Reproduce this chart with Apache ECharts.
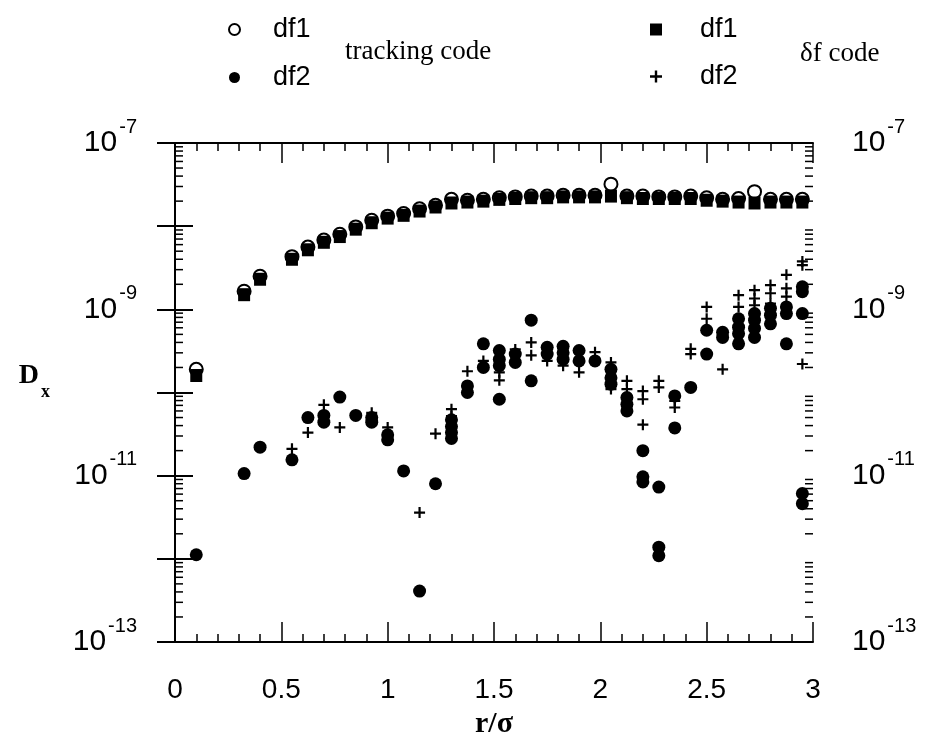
<!DOCTYPE html>
<html>
<head>
<meta charset="utf-8">
<script src="https://cdn.jsdelivr.net/npm/echarts@6/dist/echarts.min.js"></script>
<style>
  html, body { margin: 0; background: #fff; }
  #chart { width: 939px; height: 738px; }
</style>
</head>
<body>
<div id="chart"></div>
<script>
// [r/sigma, D_x]
const trackingDf1 = [
  [0.1, 1.9e-10], [0.325, 1.65e-9], [0.4, 2.5e-9], [0.55, 4.3e-9], [0.625, 5.6e-9],
  [0.7, 6.8e-9], [0.775, 8.0e-9], [0.85, 9.8e-9], [0.925, 1.18e-8], [1.0, 1.32e-8],
  [1.075, 1.42e-8], [1.15, 1.62e-8], [1.225, 1.78e-8], [1.3, 2.1e-8], [1.375, 2.05e-8],
  [1.45, 2.1e-8], [1.525, 2.2e-8], [1.6, 2.25e-8], [1.675, 2.3e-8], [1.75, 2.3e-8],
  [1.825, 2.35e-8], [1.9, 2.35e-8], [1.975, 2.35e-8], [2.05, 3.2e-8], [2.125, 2.3e-8],
  [2.2, 2.3e-8], [2.275, 2.25e-8], [2.35, 2.25e-8], [2.425, 2.3e-8], [2.5, 2.2e-8],
  [2.575, 2.1e-8], [2.65, 2.15e-8], [2.725, 2.6e-8], [2.8, 2.1e-8], [2.875, 2.1e-8],
  [2.95, 2.1e-8]
]

const deltafDf1 = [
  [0.1, 1.6e-10], [0.325, 1.5e-9], [0.4, 2.3e-9], [0.55, 4.0e-9], [0.625, 5.2e-9],
  [0.7, 6.4e-9], [0.775, 7.5e-9], [0.85, 9.2e-9], [0.925, 1.1e-8], [1.0, 1.25e-8],
  [1.075, 1.35e-8], [1.15, 1.52e-8], [1.225, 1.7e-8], [1.3, 1.9e-8], [1.375, 1.95e-8],
  [1.45, 2.0e-8], [1.525, 2.1e-8], [1.6, 2.15e-8], [1.675, 2.2e-8], [1.75, 2.2e-8],
  [1.825, 2.25e-8], [1.9, 2.25e-8], [1.975, 2.25e-8], [2.05, 2.3e-8], [2.125, 2.2e-8],
  [2.2, 2.15e-8], [2.275, 2.15e-8], [2.35, 2.15e-8], [2.425, 2.15e-8], [2.5, 2.05e-8],
  [2.575, 2.0e-8], [2.65, 1.95e-8], [2.725, 1.9e-8], [2.8, 1.95e-8], [2.875, 1.95e-8],
  [2.95, 1.95e-8]
]

const trackingDf2 = [
  [0.1, 1.12e-12], [0.325, 1.06e-11], [0.4, 2.2e-11], [0.55, 1.55e-11], [0.625, 5.0e-11],
  [0.7, 5.3e-11], [0.7, 4.4e-11], [0.775, 8.8e-11], [0.85, 5.3e-11],
  [0.925, 5.0e-11], [0.925, 4.4e-11], [1.0, 3.1e-11], [1.0, 2.7e-11],
  [1.075, 1.14e-11], [1.15, 4.1e-13], [1.225, 8.0e-12],
  [1.3, 4.7e-11], [1.3, 3.9e-11], [1.3, 3.3e-11], [1.3, 2.8e-11],
  [1.375, 1.2e-10], [1.375, 1.0e-10], [1.45, 3.85e-10], [1.45, 2.0e-10],
  [1.525, 3.2e-10], [1.525, 2.5e-10], [1.525, 2.1e-10], [1.525, 8.3e-11],
  [1.6, 2.9e-10], [1.6, 2.3e-10], [1.675, 7.4e-10], [1.675, 1.38e-10],
  [1.75, 3.5e-10], [1.75, 2.9e-10], [1.825, 3.6e-10], [1.825, 3.0e-10], [1.825, 2.5e-10],
  [1.9, 3.2e-10], [1.9, 2.4e-10], [1.975, 2.4e-10],
  [2.05, 1.9e-10], [2.05, 1.5e-10], [2.05, 1.26e-10],
  [2.125, 8.7e-11], [2.125, 7.2e-11], [2.125, 6.0e-11],
  [2.2, 2.0e-11], [2.2, 9.7e-12], [2.2, 8.4e-12],
  [2.275, 7.3e-12], [2.275, 1.38e-12], [2.275, 1.09e-12],
  [2.35, 9.1e-11], [2.35, 3.75e-11], [2.425, 1.15e-10],
  [2.5, 5.6e-10], [2.5, 2.9e-10], [2.575, 5.3e-10], [2.575, 4.6e-10],
  [2.65, 7.7e-10], [2.65, 6.1e-10], [2.65, 5.1e-10], [2.65, 3.85e-10],
  [2.725, 8.9e-10], [2.725, 7.4e-10], [2.725, 5.9e-10], [2.725, 4.6e-10],
  [2.8, 1.03e-9], [2.8, 8.5e-10], [2.8, 6.7e-10],
  [2.875, 1.07e-9], [2.875, 8.9e-10], [2.875, 3.85e-10],
  [2.95, 1.87e-9], [2.95, 1.63e-9], [2.95, 8.9e-10], [2.95, 6.1e-12], [2.95, 4.6e-12]
]

const deltafDf2 = [
  [0.55, 2.1e-11], [0.625, 3.3e-11], [0.7, 7.1e-11], [0.775, 3.8e-11], [0.925, 5.7e-11],
  [1.0, 3.8e-11], [1.15, 3.6e-12], [1.225, 3.2e-11], [1.3, 6.3e-11], [1.3, 5.2e-11],
  [1.375, 1.8e-10], [1.45, 2.4e-10], [1.525, 1.75e-10], [1.525, 1.4e-10], [1.6, 3.3e-10],
  [1.675, 4.0e-10], [1.675, 2.8e-10], [1.75, 2.4e-10], [1.825, 2.1e-10], [1.9, 1.75e-10],
  [1.975, 3.05e-10], [2.05, 2.3e-10], [2.05, 1.1e-10], [2.125, 1.38e-10], [2.125, 1.1e-10],
  [2.2, 1.04e-10], [2.2, 8.3e-11], [2.2, 4.1e-11], [2.275, 1.38e-10], [2.275, 1.15e-10],
  [2.35, 7.9e-11], [2.35, 6.6e-11], [2.425, 3.35e-10], [2.425, 2.9e-10],
  [2.5, 1.07e-9], [2.5, 7.7e-10], [2.575, 1.9e-10], [2.65, 1.48e-9], [2.65, 1.07e-9],
  [2.725, 1.7e-9], [2.725, 1.35e-9], [2.725, 1.12e-9],
  [2.8, 1.96e-9], [2.8, 1.56e-9], [2.8, 1.17e-9],
  [2.875, 2.6e-9], [2.875, 1.79e-9], [2.875, 1.42e-9],
  [2.95, 3.77e-9], [2.95, 3.4e-9], [2.95, 2.2e-10]
]

const xMin = 0
const xMax = 3
const yMin = 1e-13
const yMax = 1e-7

// log minor ticks 2..9 x 10^n, drawn on both frame edges
const minorTicks = []
for (let e = -13; e < -7; e++) {
  for (let m = 2; m <= 9; m++) minorTicks.push(m * Math.pow(10, e))
}

const sans = 'Liberation Sans'
const serif = 'Liberation Serif'
const plus = 'path://M4,0H6V4H10V6H6V10H4V6H0V4H4Z'

function powLabel (v) {
  const e = Math.round(Math.log10(v))
  if (Math.abs(e) % 2 !== 1) return ''
  return '{b|10}{s|' + e + '}'
}

const powRich = {
  b: { fontSize: 30, fontFamily: sans, color: '#000' },
  s: { fontSize: 20, fontFamily: sans, color: '#000', padding: [0, 0, 32, 2] }
}

const yAxisBase = {
  type: 'log',
  logBase: 10,
  min: yMin,
  max: yMax,
  axisLine: { show: true, lineStyle: { color: '#000', width: 2 } },
  axisTick: { show: true, inside: true, length: 18, lineStyle: { color: '#000', width: 2 } },
  splitLine: { show: false },
  axisLabel: { formatter: powLabel, rich: powRich, margin: 38 }
}

const xAxisBase = {
  type: 'value',
  min: xMin,
  max: xMax,
  interval: 0.5,
  axisLine: { show: true, lineStyle: { color: '#000', width: 2 } },
  axisTick: { show: true, inside: true, length: 20, lineStyle: { color: '#000', width: 1.5 } },
  minorTick: { show: true, splitNumber: 5, length: 8, lineStyle: { color: '#000', width: 1.5 } },
  splitLine: { show: false },
  minorSplitLine: { show: false }
}

const solid = { color: '#000', opacity: 1 }
// emptyCircle: stroke takes the item colour, fill is white
const hollow = { color: '#000', borderColor: '#000', borderWidth: 2, opacity: 1 }

const option = {
  backgroundColor: '#fff',
  animation: false,
  grid: { left: 175, right: 126, top: 143, bottom: 96, outerBoundsMode: 'none' },
  xAxis: [
    Object.assign({}, xAxisBase, {
      position: 'bottom',
      name: 'r/σ',
      nameLocation: 'middle',
      nameGap: 60,
      nameTextStyle: { fontFamily: serif, fontWeight: 'bold', fontSize: 30, color: '#000' },
      axisLabel: {
        margin: 34, fontFamily: sans, fontSize: 28, color: '#000',
        formatter: v => String(v)
      }
    }),
    Object.assign({}, xAxisBase, { position: 'top', axisLabel: { show: false } })
  ],
  yAxis: [
    Object.assign({}, yAxisBase, {
      position: 'left',
      name: '{d|D}{x|x}',
      nameLocation: 'middle',
      nameRotate: 0,
      nameGap: 125,
      nameTextStyle: {
        rich: {
          d: { fontFamily: serif, fontWeight: 'bold', fontSize: 28, color: '#000', padding: [0, 0, 34, 0] },
          x: { fontFamily: serif, fontWeight: 'bold', fontSize: 18, color: '#000', padding: [0, 0, 0, 2] }
        }
      },
      axisLabel: { formatter: powLabel, rich: powRich, margin: 38, align: 'right' }
    }),
    Object.assign({}, yAxisBase, {
      position: 'right',
      axisLabel: { formatter: powLabel, rich: powRich, margin: 39, align: 'left' }
    })
  ],
  legend: [
    {
      data: [
        { name: 'tracking df1', icon: 'emptyCircle', itemStyle: hollow },
        { name: 'tracking df2', icon: 'circle', itemStyle: solid }
      ],
      orient: 'vertical',
      left: 223,
      top: 11,
      itemWidth: 11,
      itemHeight: 11,
      itemGap: 21,
      selectedMode: false,
      formatter: n => n.split(' ')[1],
      textStyle: { fontFamily: sans, fontSize: 27, color: '#000', padding: [0, 0, 0, 28] }
    },
    {
      data: [
        { name: 'δf df1', icon: 'rect', itemStyle: solid },
        { name: 'δf df2', icon: plus, itemStyle: solid }
      ],
      orient: 'vertical',
      left: 645,
      top: 11,
      itemWidth: 12,
      itemHeight: 12,
      itemGap: 20,
      selectedMode: false,
      formatter: n => n.split(' ')[1],
      textStyle: { fontFamily: sans, fontSize: 27, color: '#000', padding: [0, 0, 0, 33] }
    }
  ],
  graphic: [
    { type: 'text', left: 345, top: 38, style: { text: 'tracking code', font: '27px "Liberation Serif"', fill: '#000' } },
    { type: 'text', left: 800, top: 40, style: { text: 'δf code', font: '27px "Liberation Serif"', fill: '#000' } }
  ],
  series: [
    {
      name: 'tracking df1',
      type: 'scatter',
      data: trackingDf1,
      symbol: 'emptyCircle',
      symbolSize: 13,
      itemStyle: hollow
    },
    {
      name: 'δf df1',
      type: 'scatter',
      data: deltafDf1,
      symbol: 'rect',
      symbolSize: [12, 13],
      itemStyle: solid
    },
    {
      name: 'tracking df2',
      type: 'scatter',
      data: trackingDf2,
      symbol: 'circle',
      symbolSize: 13,
      itemStyle: solid
    },
    {
      name: 'δf df2',
      type: 'scatter',
      data: deltafDf2,
      symbol: plus,
      symbolSize: 11,
      itemStyle: solid
    },
    {
      type: 'scatter',
      silent: true,
      data: minorTicks.map(v => [xMin, v]),
      symbol: 'rect',
      symbolSize: [8, 1.5],
      symbolOffset: [4, 0],
      itemStyle: solid
    },
    {
      type: 'scatter',
      silent: true,
      data: minorTicks.map(v => [xMax, v]),
      symbol: 'rect',
      symbolSize: [8, 1.5],
      symbolOffset: [-4, 0],
      itemStyle: solid
    }
  ]
}

const chart = echarts.init(document.getElementById('chart'), null, { renderer: 'canvas' })
chart.setOption(option)
</script>
</body>
</html>
